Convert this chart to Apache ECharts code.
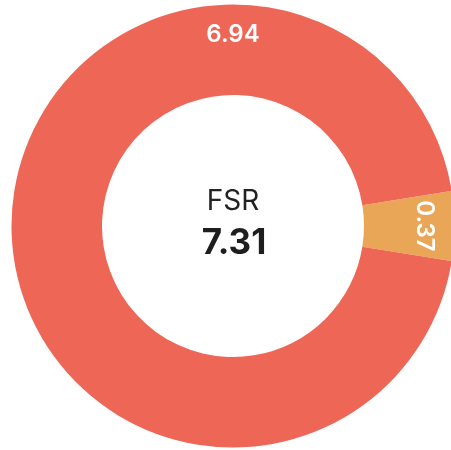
<!DOCTYPE html>
<html>
<head>
<meta charset="utf-8">
<script src="https://cdn.jsdelivr.net/npm/echarts@6/dist/echarts.min.js"></script>
<style>
  html, body { margin: 0; padding: 0; background: #fff; }
  #chart { width: 451px; height: 450px; }
</style>
</head>
<body>
<div id="chart"></div>
<script>
// Segment names, values and colours of the FSR ring
const categories = ['B', 'A'];
const values = [0.37, 6.94];
const colors = ['#E9A657', '#EE6656'];
const centerTitle = 'FSR';

const total = values.reduce((a, b) => a + b, 0);

// Ring geometry (px)
const CX = 233, CY = 226, R_IN = 131, R_OUT = 221.5, R_LABEL = 191;
// Angle (deg, counter-clockwise from 3 o'clock) at which each value label sits
const labelAngles = [0, 90];
const labelRotations = [-90, 0];

const chart = echarts.init(document.getElementById('chart'), null, { renderer: 'canvas' });

chart.setOption({
  animation: false,
  series: [{
    type: 'pie',
    center: [CX, CY],
    radius: [R_IN, R_OUT],
    // first segment centred on the 3 o'clock direction
    startAngle: values[0] / total * 180,
    clockwise: true,
    avoidLabelOverlap: false,
    emphasis: { disabled: true },
    itemStyle: { borderWidth: 0 },
    label: {
      show: true,
      position: 'inside',
      color: '#fff',
      fontFamily: 'Inter',
      fontWeight: 600,
      fontSize: 24,
      formatter: p => p.value.toFixed(2)
    },
    labelLine: { show: false },
    labelLayout: function (p) {
      const a = labelAngles[p.dataIndex] * Math.PI / 180;
      return {
        x: CX + R_LABEL * Math.cos(a),
        y: CY - R_LABEL * Math.sin(a),
        rotate: labelRotations[p.dataIndex],
        align: 'center',
        verticalAlign: 'middle'
      };
    },
    data: categories.map((name, i) => ({
      name,
      value: values[i],
      itemStyle: { color: colors[i] }
    }))
  }],
  graphic: [
    {
      type: 'text',
      x: CX,
      y: CY - 24,
      style: {
        text: centerTitle,
        fill: '#222',
        font: '400 28px Inter',
        align: 'center',
        verticalAlign: 'middle'
      }
    },
    {
      type: 'text',
      x: CX + 1,
      y: CY + 17,
      style: {
        text: total.toFixed(2),
        fill: '#1e1e1e',
        font: '700 35px Inter',
        align: 'center',
        verticalAlign: 'middle'
      }
    }
  ]
});
</script>
</body>
</html>
